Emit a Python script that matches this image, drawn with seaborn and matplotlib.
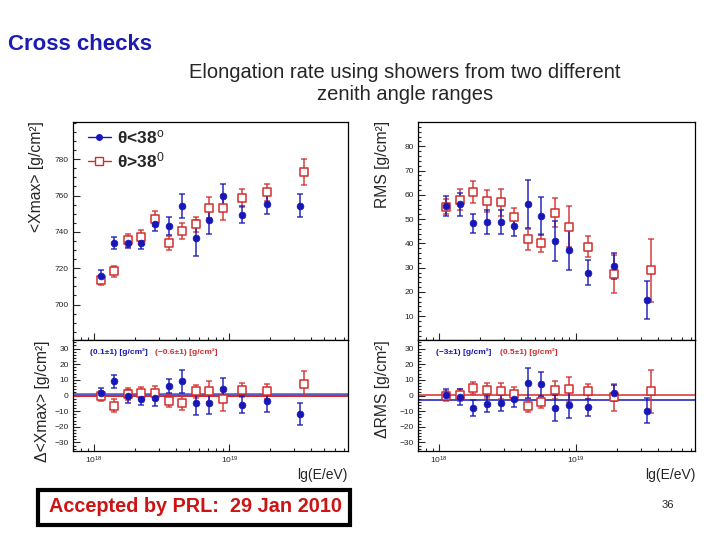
import matplotlib
matplotlib.use("Agg")
import numpy as np
import pandas as pd
import matplotlib.pyplot as plt
import seaborn as sns
from matplotlib.lines import Line2D
from matplotlib.patches import Rectangle
from matplotlib.ticker import FixedLocator, MultipleLocator, LogLocator, NullFormatter

# energy bins, lg(E/eV)
lg_e_lo = [18.05, 18.15, 18.25, 18.35, 18.45, 18.55, 18.65, 18.75, 18.85, 18.95, 19.09, 19.28, 19.52]
lg_e_hi = [18.05, 18.15, 18.25, 18.35, 18.45, 18.55, 18.65, 18.75, 18.85, 18.95, 19.09, 19.28, 19.55]

# <Xmax> for theta<38 (lo) and theta>38 (hi)
xmax_lo = [716, 734, 734, 734, 744.4, 743.3, 754.5, 736.5, 746.4, 759.6, 749.5, 755.6, 754.5]
xmax_lo_err = [3, 3.3, 3, 3.5, 4, 5, 6.6, 10, 7.3, 6.9, 4.8, 6, 6.5]
xmax_hi = [713.4, 718.3, 735.4, 737.4, 747.3, 734, 740.5, 744.2, 753.4, 753.4, 758.7, 761.7, 772.8]
xmax_hi_err = [2.8, 3, 3.5, 3.8, 4, 4, 4.4, 4.1, 6, 6.8, 5, 4.6, 7.2]

# RMS(Xmax)
rms_lo = [55.4, 56.1, 48.2, 48.7, 48.9, 47.1, 56.3, 51.3, 41.1, 37.2, 28.0, 30.7, 16.8]
rms_lo_err = [4, 4.7, 4.1, 5, 5, 4, 9.8, 7.7, 8.3, 8.3, 5, 5.3, 7.9]
rms_hi = [55.1, 57.9, 61.1, 57.5, 56.9, 50.7, 41.6, 40.0, 52.7, 46.9, 38.6, 27.5, 28.9]
rms_hi_err = [3.2, 4.3, 4.6, 4.6, 5.5, 4, 4.2, 3.7, 5.9, 8.3, 4.4, 7.9, 13]

# residuals
dxmax_lo = [1.5, 9.0, -0.6, -2.1, -1.7, 5.8, 9.0, -4.5, -4.5, 4.1, -6.0, -3.4, -11.8]
dxmax_lo_err = [3.5, 4.3, 4, 4, 4.8, 4.5, 7.5, 8, 7.4, 6.9, 5.4, 7, 7]
dxmax_hi = [-0.6, -6.4, 0.9, 1.9, 1.5, -3.4, -4.9, 2.6, 2.6, -2.4, 3.6, 2.6, 7.5]
dxmax_hi_err = [3.2, 4, 4, 3.8, 4.3, 4, 4.5, 4.3, 6.8, 7.5, 4.3, 5, 7.9]

drms_lo = [0.4, -1.1, -8.1, -5.4, -4.7, -2.1, 8.1, 7.5, -7.9, -5.8, -7.5, 1.7, -9.6]
drms_lo_err = [3.5, 5, 5, 5, 5, 5, 9.6, 7.5, 8.3, 8.6, 5.4, 5, 8]
drms_hi = [-0.4, 0.4, 4.9, 3.2, 2.8, 1.1, -6.4, -4.3, 3.6, 3.9, 2.8, -1.1, 2.6]
drms_hi_err = [3.2, 4, 4, 4.6, 5.3, 4.5, 4.3, 3.5, 5.8, 8, 4.8, 8.6, 13.5]

# constant fits to the residuals
fit_dxmax = [0.1, -0.6]
fit_drms = [-3, 0.5]
fit_dxmax_labels = ["(0.1±1) [g/cm²]", "(−0.6±1) [g/cm²]"]
fit_drms_labels = ["(−3±1) [g/cm²]", "(0.5±1) [g/cm²]"]

BLUE = "#1717b8"
RED = "#d42c2c"

sns.set_style("ticks")
plt.rcParams["font.family"] = ["Liberation Sans", "DejaVu Sans"]
plt.rcParams["mathtext.fontset"] = "custom"
plt.rcParams["mathtext.rm"] = "Liberation Sans"
plt.rcParams["mathtext.it"] = "Liberation Sans:italic"
plt.rcParams["mathtext.bf"] = "Liberation Sans:bold"

W, H = 720, 540
fig = plt.figure(figsize=(7.2, 5.4), dpi=100)
fig.patch.set_facecolor("white")


def px_axes(x0, y0, x1, y1):
    return fig.add_axes([x0 / W, 1 - y1 / H, (x1 - x0) / W, (y1 - y0) / H])


def fpos(x, y):
    return x / W, 1 - y / H


def draw_points(ax, y_lo, e_lo, y_hi, e_hi):
    lo = pd.DataFrame({"E": np.power(10.0, lg_e_lo), "val": y_lo, "err": e_lo})
    hi = pd.DataFrame({"E": np.power(10.0, lg_e_hi), "val": y_hi, "err": e_hi})
    ax.errorbar(hi["E"], hi["val"], yerr=hi["err"], fmt="none", ecolor=RED,
                elinewidth=1.2, capsize=2, capthick=1.1, alpha=0.85, zorder=2)
    ax.errorbar(lo["E"], lo["val"], yerr=lo["err"], fmt="none", ecolor=BLUE,
                elinewidth=1.2, capsize=2, capthick=1.1, alpha=0.85, zorder=2)
    sns.scatterplot(data=hi, x="E", y="val", marker="s", s=40, facecolor="white",
                    edgecolor=RED, linewidth=1.1, ax=ax, zorder=3, legend=False)
    sns.scatterplot(data=lo, x="E", y="val", marker="o", s=24, color=BLUE,
                    edgecolor=BLUE, linewidth=0.5, ax=ax, zorder=4, legend=False)


def style_axes(ax, ylim, majors, minor_step, show_x):
    ax.set_xscale("log")
    ax.set_xlim(10 ** 17.845, 10 ** 19.875)
    ax.set_ylim(*ylim)
    ax.yaxis.set_major_locator(FixedLocator(majors))
    ax.yaxis.set_minor_locator(MultipleLocator(minor_step))
    ax.xaxis.set_major_locator(LogLocator(base=10))
    ax.xaxis.set_minor_locator(LogLocator(base=10, subs=np.arange(2, 10)))
    ax.xaxis.set_minor_formatter(NullFormatter())
    ax.tick_params(which="both", direction="in", top=False, right=False,
                   width=0.8, labelsize=6, pad=3)
    ax.tick_params(which="major", length=5)
    ax.tick_params(which="minor", length=2.5)
    ax.tick_params(axis="x", labelbottom=show_x)
    ax.set_xlabel("")
    ax.set_ylabel("")
    for sp in ax.spines.values():
        sp.set_linewidth(0.9)
        sp.set_color("black")


# left column: <Xmax>
ax1 = px_axes(73, 122, 348, 340)
draw_points(ax1, xmax_lo, xmax_lo_err, xmax_hi, xmax_hi_err)
style_axes(ax1, (680.5, 800.5), [700, 720, 740, 760, 780], 5, False)

ax2 = px_axes(73, 340, 348, 451)
ax2.axhline(fit_dxmax[0], color=BLUE, lw=2.6, alpha=0.7, zorder=1)
ax2.axhline(fit_dxmax[1], color=RED, lw=1.4, zorder=1)
draw_points(ax2, dxmax_lo, dxmax_lo_err, dxmax_hi, dxmax_hi_err)
style_axes(ax2, (-35.5, 35.5), [-30, -20, -10, 0, 10, 20, 30], 2, True)

# right column: RMS
ax3 = px_axes(418, 122, 695, 340)
draw_points(ax3, rms_lo, rms_lo_err, rms_hi, rms_hi_err)
style_axes(ax3, (0.2, 90), list(range(10, 90, 10)), 2, False)

ax4 = px_axes(418, 340, 695, 451)
ax4.axhline(fit_drms[0], color=BLUE, lw=1.1, zorder=1)
ax4.axhline(fit_drms[1], color=RED, lw=1.1, zorder=1)
draw_points(ax4, drms_lo, drms_lo_err, drms_hi, drms_hi_err)
style_axes(ax4, (-35.5, 35.5), [-30, -20, -10, 0, 10, 20, 30], 2, True)

# fit results
fit_kw = dict(fontsize=6, va="center", weight="bold")
fig.text(*fpos(90, 352), fit_dxmax_labels[0], color=BLUE, **fit_kw)
fig.text(*fpos(155, 352), fit_dxmax_labels[1], color=RED, **fit_kw)
fig.text(*fpos(436, 352), fit_drms_labels[0], color=BLUE, **fit_kw)
fig.text(*fpos(500, 352), fit_drms_labels[1], color=RED, **fit_kw)

# legend
handles = [
    Line2D([], [], color=BLUE, lw=1.0, marker="o", ms=4, mfc=BLUE, mec=BLUE),
    Line2D([], [], color=RED, lw=1.0, marker="s", ms=5.5, mfc="white", mec=RED),
]
labels = [r"θ<38$^{\mathrm{o}}$", r"θ>38$^{\mathrm{0}}$"]
ax1.legend(handles, labels, loc="upper left", bbox_to_anchor=fpos(88, 128),
           bbox_transform=fig.transFigure, frameon=False, handlelength=1.3,
           handletextpad=0.35, labelspacing=0.25, borderaxespad=0, borderpad=0,
           prop={"size": 12.5, "weight": "bold"})

# axis titles (ROOT style, top/right aligned)
fig.text(*fpos(37, 121), "<Xmax> [g/cm²]", rotation=90, ha="center", va="top", fontsize=11.3)
fig.text(*fpos(42, 340), "Δ<Xmax> [g/cm²]", rotation=90, ha="center", va="top", fontsize=11.3)
fig.text(*fpos(382, 121), "RMS [g/cm²]", rotation=90, ha="center", va="top", fontsize=11.3)
fig.text(*fpos(383, 340), "ΔRMS [g/cm²]", rotation=90, ha="center", va="top", fontsize=11.3)
fig.text(*fpos(348, 475), "lg(E/eV)", ha="right", va="center", fontsize=10)
fig.text(*fpos(695, 475), "lg(E/eV)", ha="right", va="center", fontsize=10)

# slide texts
fig.text(*fpos(8, 44), "Cross checks", color="#1c1cb0", fontsize=16, weight="bold", va="center")
fig.text(*fpos(405, 83), "Elongation rate using showers from two different\nzenith angle ranges",
         ha="center", va="center", fontsize=14.5, linespacing=1.2)
fig.text(*fpos(668, 505), "36", ha="center", va="center", fontsize=8)
box = Rectangle(fpos(38, 525), 312 / W, 35 / H, transform=fig.transFigure,
                fill=False, edgecolor="black", lw=3)
fig.patches.append(box)
fig.text(*fpos(196, 507), "Accepted by PRL:  29 Jan 2010", color="#cc1414",
         fontsize=14.3, weight="bold", ha="center", va="center")

fig.savefig("out.png", dpi=100, facecolor="white")
